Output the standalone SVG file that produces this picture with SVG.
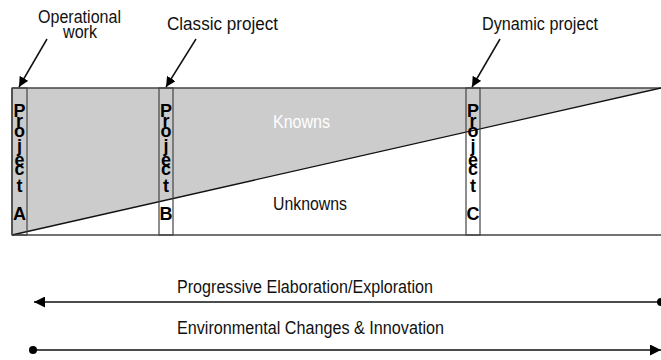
<svg xmlns="http://www.w3.org/2000/svg" width="661" height="360" viewBox="0 0 661 360">
<style>
.lbl{font-family:"Liberation Sans",Arial,sans-serif;font-size:17.5px;fill:#111}
.vt{font-family:"Liberation Sans",Arial,sans-serif;font-size:18px;font-weight:bold;fill:#000;text-anchor:middle}
.bar{fill:none;stroke:#444;stroke-width:1.2}
.ln{stroke:#111;stroke-width:1.5;fill:none}
.bd{stroke:#444;stroke-width:1.5;fill:none}
</style>
<defs>
<marker id="ah" viewBox="0 0 10 10" refX="10" refY="5" markerWidth="10" markerHeight="10" markerUnits="userSpaceOnUse" orient="auto">
<path d="M0,0 L10,5 L0,10 z" fill="#000"/>
</marker>
<marker id="ahs" viewBox="0 0 10 10" refX="10" refY="5" markerWidth="11" markerHeight="11" markerUnits="userSpaceOnUse" orient="auto-start-reverse">
<path d="M0,0 L10,5 L0,10 z" fill="#000"/>
</marker>
</defs>
<g id="chart">
<polygon points="12,88 661,88 12,235" fill="#cccccc"/>
<line class="bd" x1="12" y1="88" x2="661" y2="88"/>
<line class="bd" x1="12" y1="235" x2="661" y2="235"/>
<line class="bd" x1="12" y1="88" x2="12" y2="235"/>
<line x1="12" y1="235" x2="661" y2="88" stroke="#111" stroke-width="1.3"/>
<text class="lbl" x="273" y="128" fill="#fff" style="fill:#fff" textLength="57" lengthAdjust="spacingAndGlyphs">Knowns</text>
<text class="lbl" x="273" y="210" textLength="74" lengthAdjust="spacingAndGlyphs">Unknowns</text>
</g>
<g id="projectA">
<rect class="bar" x="12" y="88" width="15" height="147"/>
<text class="vt"><tspan x="19.5" y="117">P</tspan><tspan x="19.5" y="127">r</tspan><tspan x="19.5" y="137">o</tspan><tspan x="19.5" y="152">j</tspan><tspan x="19.5" y="166">e</tspan><tspan x="19.5" y="175">c</tspan><tspan x="19.5" y="192">t</tspan><tspan x="19.5" y="220">A</tspan></text>
</g>
<g id="projectB">
<rect class="bar" x="159" y="88" width="14" height="147"/>
<text class="vt"><tspan x="166" y="117">P</tspan><tspan x="166" y="127">r</tspan><tspan x="166" y="137">o</tspan><tspan x="166" y="152">j</tspan><tspan x="166" y="166">e</tspan><tspan x="166" y="175">c</tspan><tspan x="166" y="192">t</tspan><tspan x="166" y="220">B</tspan></text>
</g>
<g id="projectC">
<rect class="bar" x="466" y="88" width="14" height="147"/>
<text class="vt"><tspan x="473" y="117">P</tspan><tspan x="473" y="127">r</tspan><tspan x="473" y="137">o</tspan><tspan x="473" y="152">j</tspan><tspan x="473" y="166">e</tspan><tspan x="473" y="175">c</tspan><tspan x="473" y="192">t</tspan><tspan x="473" y="220">C</tspan></text>
</g>
<g id="operational">
<text class="lbl" x="38" y="23" textLength="83" lengthAdjust="spacingAndGlyphs">Operational</text>
<text class="lbl" x="63" y="38" textLength="34" lengthAdjust="spacingAndGlyphs">work</text>
</g>
<g id="classic">
<text class="lbl" x="167" y="30" textLength="111" lengthAdjust="spacingAndGlyphs">Classic project</text>
</g>
<g id="dynamic">
<text class="lbl" x="482" y="30" textLength="116" lengthAdjust="spacingAndGlyphs">Dynamic project</text>
</g>
<g id="progressive">
<text class="lbl" x="177" y="293" textLength="256" lengthAdjust="spacingAndGlyphs">Progressive Elaboration/Exploration</text>
</g>
<g id="environmental">
<text class="lbl" x="177" y="334" textLength="267" lengthAdjust="spacingAndGlyphs">Environmental Changes &amp; Innovation</text>
</g>
<g id="connectors">
<line class="ln" x1="47" y1="39" x2="19" y2="87" marker-end="url(#ah)"/>
<line class="ln" x1="196" y1="39" x2="166" y2="87" marker-end="url(#ah)"/>
<line class="ln" x1="500" y1="39" x2="472" y2="87" marker-end="url(#ah)"/>
<line class="ln" x1="661" y1="302" x2="34" y2="302" marker-end="url(#ahs)"/>
<circle cx="661" cy="302" r="4" fill="#000"/>
<line class="ln" x1="33" y1="350" x2="661" y2="350" marker-end="url(#ahs)"/>
<circle cx="33" cy="350" r="4" fill="#000"/>
</g>
</svg>
